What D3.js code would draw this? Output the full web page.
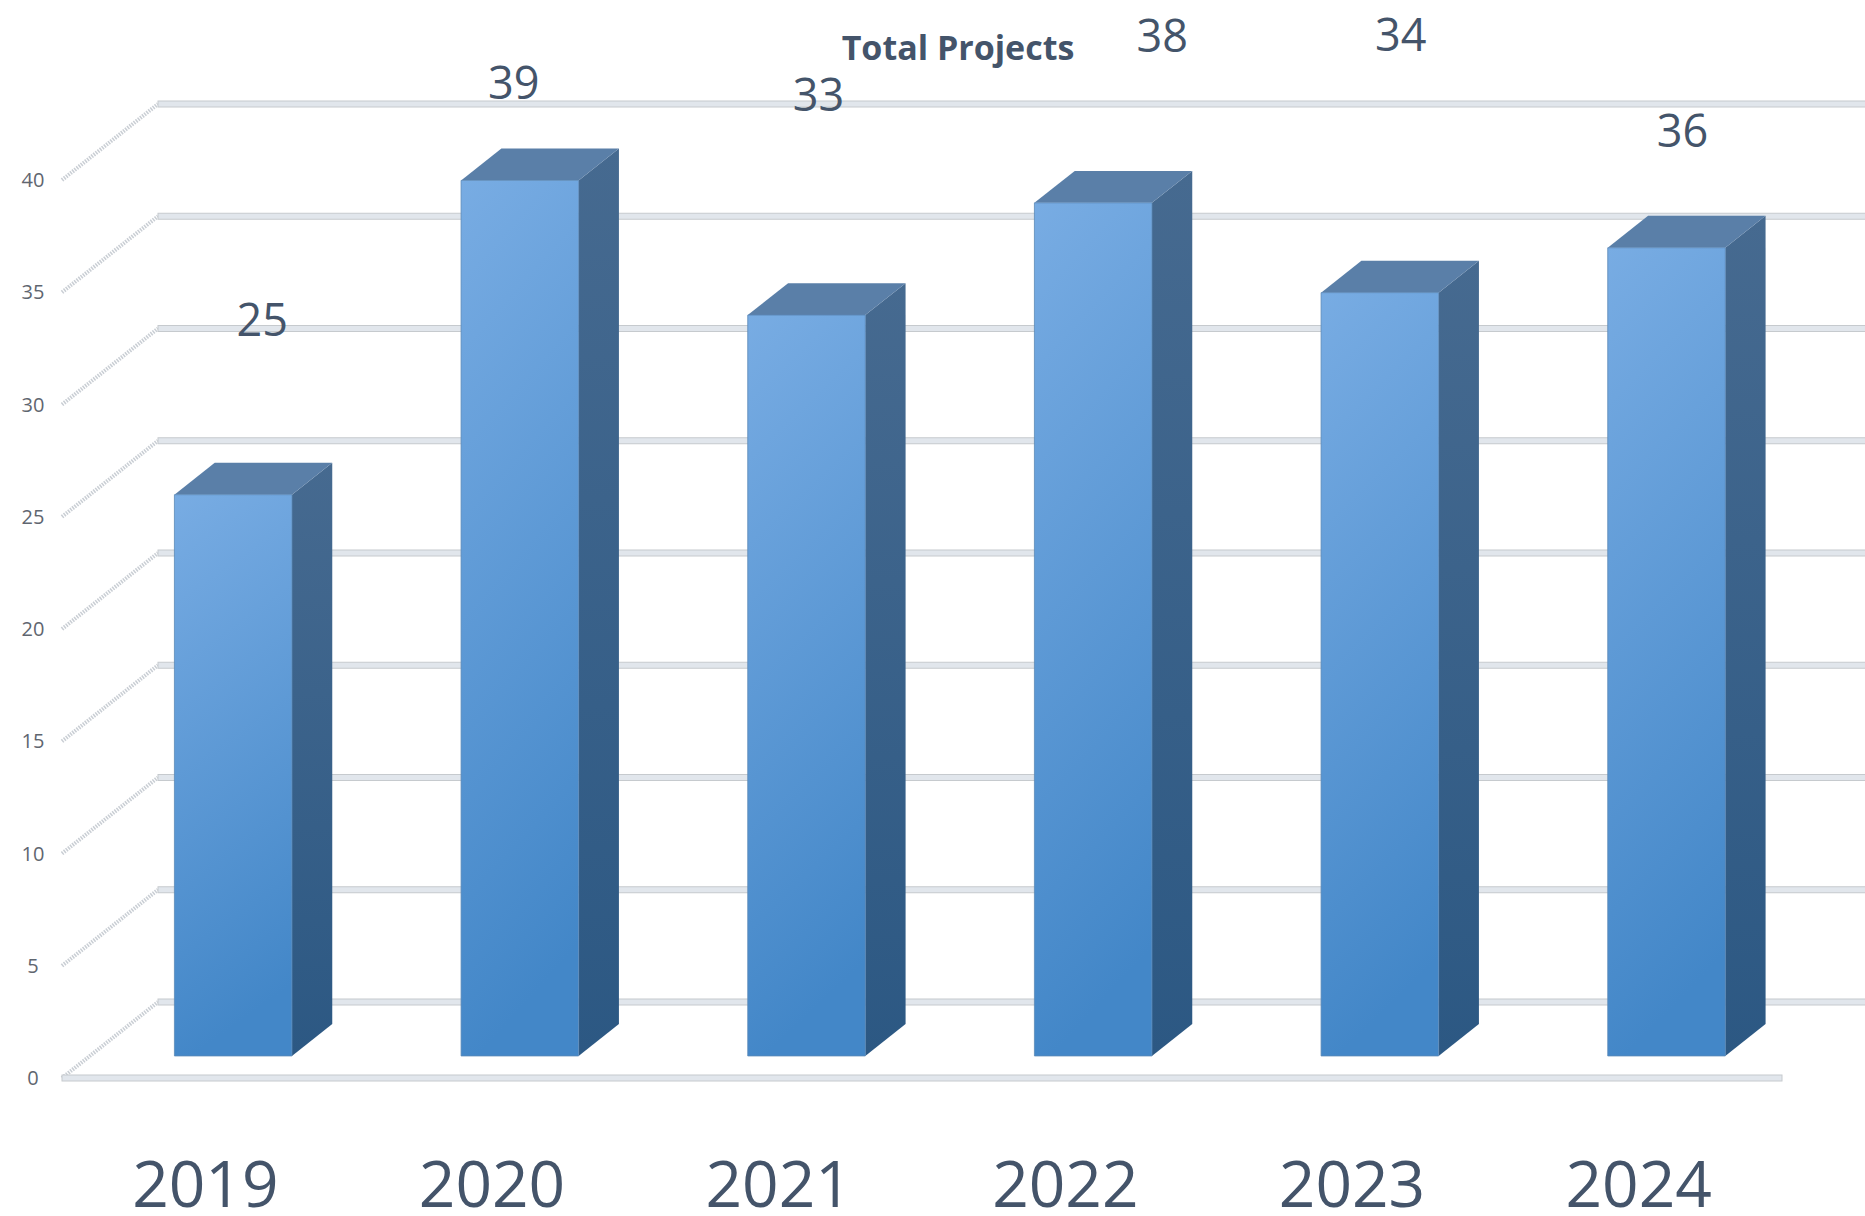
<!DOCTYPE html>
<html lang="en">
  <head>
    <meta charset="utf-8">
    <title>Total Projects</title>
    <script src="https://d3js.org/d3.v7.min.js"></script>
    <style type="text/css">
        body {
          margin: 0;
          background: #fff;
        }
        .chart text {
          font-family: 'Open Sans', 'DejaVu Sans', sans-serif;
        }
        .grid rect {
          fill: #e1e6ec;
          stroke: #c6cace;
          stroke-width: 1px;
        }
        .wall line {
          stroke: #c9ced4;
          stroke-width: 4px;
          stroke-dasharray: 1.5 1.2;
        }
    </style>
  </head>

  <body>
    <div class="chart" id="chart"></div>

    <script>
        // data
        var years = ["2019", "2020", "2021", "2022", "2023", "2024"];
        var projects = [25, 39, 33, 38, 34, 36];
        var yTicks = [0, 5, 10, 15, 20, 25, 30, 35, 40];
        var chartTitle = "Total Projects";

        // where each data label ended up (px, from top centre of the bar's front face)
        var labelNudge = [[29, -174], [-6, -97], [12, -220], [69, -167], [21, -257], [16, -117]];

        var width = 1865, height = 1216;
        var floorY = 1078;           // front edge of the floor
        var depth = {x: 96, y: -76}; // front -> back wall offset
        var barDepth = [0.29, 0.71]; // bar sits in the middle of the depth
        var barFrac = 0.41;          // front face width as share of the band

        var svg = d3.select("#chart").append("svg")
            .attr("width", width)
            .attr("height", height);

        var x = d3.scaleBand()
            .domain(years)
            .range([62, 1782])
            .padding(0);

        var y = d3.scaleLinear()
            .domain([0, 40])
            .range([0, 898]);

        // oblique projection: front-plane x, value, depth fraction
        function pt(xf, v, t) {
          return [xf + t * depth.x, floorY - y(v) + t * depth.y];
        }

        var defs = svg.append("defs");

        var gFront = defs.append("linearGradient")
            .attr("id", "front").attr("x1", 0).attr("y1", 0).attr("x2", 0.15).attr("y2", 1);
        gFront.append("stop").attr("offset", "0%").attr("stop-color", "#78ace3");
        gFront.append("stop").attr("offset", "100%").attr("stop-color", "#4387c8");

        var gSide = defs.append("linearGradient")
            .attr("id", "side").attr("x1", 0).attr("y1", 0).attr("x2", 0).attr("y2", 1);
        gSide.append("stop").attr("offset", "0%").attr("stop-color", "#466a90");
        gSide.append("stop").attr("offset", "100%").attr("stop-color", "#2c5883");

        // side wall gridlines
        svg.append("g")
            .attr("class", "wall")
          .selectAll("line")
          .data(yTicks)
          .enter().append("line")
            .attr("x1", function(d) { return pt(62, d, 0)[0]; })
            .attr("y1", function(d) { return pt(62, d, 0)[1]; })
            .attr("x2", function(d) { return pt(62, d, 1)[0]; })
            .attr("y2", function(d) { return pt(62, d, 1)[1]; });

        // back wall gridlines
        svg.append("g")
            .attr("class", "grid")
          .selectAll("rect")
          .data(yTicks)
          .enter().append("rect")
            .attr("x", pt(62, 0, 1)[0])
            .attr("y", function(d) { return pt(62, d, 1)[1] - 3; })
            .attr("width", width)
            .attr("height", 6);

        // floor front edge
        svg.append("g")
            .attr("class", "grid")
          .append("rect")
            .attr("x", x.range()[0])
            .attr("y", floorY - 3)
            .attr("width", x.range()[1] - x.range()[0])
            .attr("height", 6);

        // y axis labels
        svg.append("g")
          .selectAll("text")
          .data(yTicks)
          .enter().append("text")
            .attr("x", 33)
            .attr("y", function(d) { return pt(62, d, 0)[1]; })
            .attr("dy", "0.35em")
            .attr("text-anchor", "middle")
            .attr("font-size", "20px")
            .attr("fill", "#5f6670")
            .text(function(d) { return d; });

        var bars = years.map(function(yr, i) {
          var bw = x.bandwidth() * barFrac;
          var left = x(yr) + (x.bandwidth() - bw) / 2;
          return {year: yr, value: projects[i], left: left, right: left + bw, i: i};
        });

        var bar = svg.append("g")
          .selectAll("g")
          .data(bars)
          .enter().append("g");

        function poly(pts) {
          return "M" + pts.map(function(p) { return p.join(","); }).join("L") + "Z";
        }

        // side face
        bar.append("path")
            .attr("fill", "url(#side)")
            .attr("d", function(d) {
              var t0 = barDepth[0], t1 = barDepth[1];
              return poly([pt(d.right, 0, t0), pt(d.right, 0, t1), pt(d.right, d.value, t1), pt(d.right, d.value, t0)]);
            });

        // top face
        bar.append("path")
            .attr("fill", "#5a7fa8")
            .attr("d", function(d) {
              var t0 = barDepth[0], t1 = barDepth[1];
              return poly([pt(d.left, d.value, t0), pt(d.right, d.value, t0), pt(d.right, d.value, t1), pt(d.left, d.value, t1)]);
            });

        // front face
        bar.append("path")
            .attr("fill", "url(#front)")
            .attr("stroke", "#5b89b8")
            .attr("stroke-width", 0.8)
            .attr("d", function(d) {
              var t0 = barDepth[0];
              return poly([pt(d.left, 0, t0), pt(d.right, 0, t0), pt(d.right, d.value, t0), pt(d.left, d.value, t0)]);
            });

        // data labels
        svg.append("g")
          .selectAll("text")
          .data(bars)
          .enter().append("text")
            .attr("x", function(d) { return pt((d.left + d.right) / 2, d.value, barDepth[0])[0] + labelNudge[d.i][0]; })
            .attr("y", function(d) { return pt((d.left + d.right) / 2, d.value, barDepth[0])[1] + labelNudge[d.i][1]; })
            .attr("dy", "0.35em")
            .attr("text-anchor", "middle")
            .attr("font-size", "45px")
            .attr("fill", "#44546a")
            .text(function(d) { return d.value; });

        // category labels
        svg.append("g")
          .selectAll("text")
          .data(years)
          .enter().append("text")
            .attr("x", function(d) { return x(d) + x.bandwidth() / 2; })
            .attr("y", 1207)
            .attr("text-anchor", "middle")
            .attr("font-size", "64px")
            .attr("fill", "#44546a")
            .text(function(d) { return d; });

        // title
        svg.append("text")
            .attr("x", 958)
            .attr("y", 48)
            .attr("dy", "0.35em")
            .attr("text-anchor", "middle")
            .attr("font-size", "34px")
            .attr("font-weight", "bold")
            .attr("fill", "#44546a")
            .text(chartTitle);
    </script>
  </body>
</html>
